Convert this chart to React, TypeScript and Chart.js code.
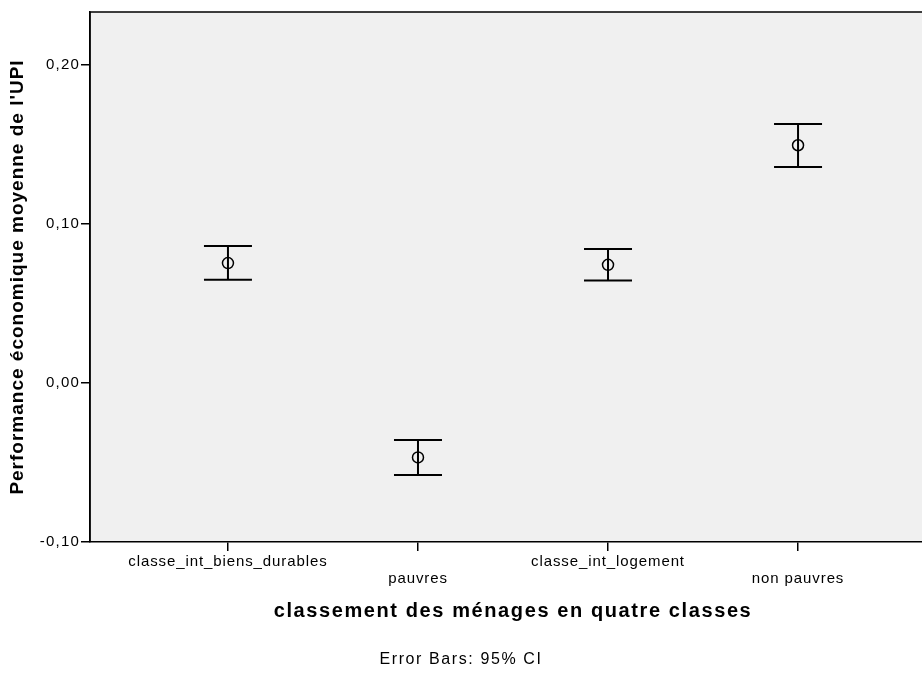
import React, { useEffect, useRef } from "react";
import { Chart, registerables } from "chart.js";

Chart.register(...registerables);

// Household classes (x axis)
const categories: string[] = [
  "classe_int_biens_durables",
  "pauvres",
  "classe_int_logement",
  "non pauvres",
];
// Mean economic performance per class and its 95% CI
const means: number[] = [0.0754, -0.0468, 0.0743, 0.1495];
const ciLower: number[] = [0.0649, -0.0579, 0.0644, 0.1359];
const ciUpper: number[] = [0.0862, -0.0359, 0.0842, 0.1629];
// Y axis ticks
const yTicks: number[] = [-0.1, 0, 0.1, 0.2];

const FONT = "'Liberation Sans', Arial, sans-serif";

// letter spacing (px) for the axis texts
const spacing: Record<string, { labels: number; title: number }> = {
  x: { labels: 0.9, title: 1.6 },
  y: { labels: 1.2, title: 1.0 },
};

const spacedText = {
  id: "spacedText",
  afterUpdate(chart: any) {
    const ctx = chart.ctx;
    Object.keys(spacing).forEach((id) => {
      const scale = chart.scales[id];
      if (!scale || scale.__spaced) return;
      scale.__spaced = true;
      const origLabels = scale.drawLabels.bind(scale);
      const origTitle = scale.drawTitle.bind(scale);
      scale.drawLabels = (area: any) => {
        ctx.save();
        ctx.letterSpacing = `${spacing[id].labels}px`;
        origLabels(area);
        ctx.restore();
      };
      scale.drawTitle = (area: any) => {
        ctx.save();
        ctx.letterSpacing = `${spacing[id].title}px`;
        origTitle(area);
        ctx.restore();
      };
    });
  },
};

const plotFrame = {
  id: "plotFrame",
  beforeDraw(chart: any) {
    const { ctx, chartArea } = chart;
    ctx.save();
    ctx.fillStyle = "#f0f0f0";
    ctx.fillRect(chartArea.left, chartArea.top, chartArea.right - chartArea.left, chartArea.bottom - chartArea.top);
    ctx.restore();
  },
  afterDraw(chart: any) {
    const { ctx, chartArea } = chart;
    ctx.save();
    ctx.strokeStyle = "#000";
    ctx.lineWidth = 1.5;
    ctx.beginPath();
    ctx.moveTo(chartArea.left, chartArea.bottom);
    ctx.lineTo(chartArea.left, chartArea.top);
    ctx.lineTo(chartArea.right, chartArea.top);
    ctx.stroke();
    // footnote
    ctx.fillStyle = "#000";
    ctx.font = `16px ${FONT}`;
    ctx.letterSpacing = "1.6px";
    ctx.textAlign = "center";
    ctx.textBaseline = "middle";
    ctx.fillText("Error Bars: 95% CI", 461, 660);
    ctx.restore();
  },
};

const errorBars = {
  id: "errorBars",
  beforeDatasetsDraw(chart: any) {
    const { ctx } = chart;
    const xs = chart.scales.x;
    const ys = chart.scales.y;
    ctx.save();
    ctx.strokeStyle = "#000";
    ctx.lineWidth = 2;
    const half = 24;
    for (let i = 0; i < categories.length; i++) {
      const x = xs.getPixelForValue(i);
      const yl = ys.getPixelForValue(ciLower[i]);
      const yu = ys.getPixelForValue(ciUpper[i]);
      ctx.beginPath();
      ctx.moveTo(x, yl);
      ctx.lineTo(x, yu);
      ctx.moveTo(x - half, yl);
      ctx.lineTo(x + half, yl);
      ctx.moveTo(x - half, yu);
      ctx.lineTo(x + half, yu);
      ctx.stroke();
    }
    ctx.restore();
  },
};

export default function App() {
  const ref = useRef<HTMLCanvasElement | null>(null);

  useEffect(() => {
    document.body.style.margin = "0";
    const canvas = ref.current;
    if (!canvas) return;
    const chart = new Chart(canvas, {
      type: "scatter",
      data: {
        datasets: [
          {
            data: means.map((m, i) => ({ x: i, y: m })),
            pointStyle: "circle",
            pointRadius: 5.5,
            pointBackgroundColor: "rgba(0,0,0,0)",
            pointBorderColor: "#000",
            pointBorderWidth: 1.5,
            showLine: false,
          },
        ],
      },
      options: {
        responsive: false,
        animation: false,
        devicePixelRatio: 1,
        layout: { padding: { top: 12, right: 14, left: 0, bottom: 0 } },
        plugins: {
          legend: { display: false },
          tooltip: { enabled: false },
        },
        scales: {
          x: {
            type: "linear",
            min: -0.726,
            max: 3.726,
            afterBuildTicks: (scale: any) => {
              scale.ticks = categories.map((_, i) => ({ value: i }));
            },
            afterFit: (scale: any) => {
              scale.height = 133;
            },
            ticks: {
              autoSkip: false,
              maxRotation: 0,
              padding: 3,
              color: "#000",
              font: { family: FONT, size: 15, lineHeight: 1.1 },
              callback: (v: any) => {
                const i = Math.round(Number(v));
                const label = categories[i] ?? "";
                return i % 2 === 1 ? ["", label] : [label];
              },
            },
            grid: {
              display: true,
              drawOnChartArea: false,
              drawTicks: true,
              tickLength: 9,
              color: "#000",
              lineWidth: 1.5,
            },
            border: { display: true, color: "#000", width: 1.5 },
            title: {
              display: true,
              text: "classement des ménages en quatre classes",
              color: "#000",
              font: { family: FONT, size: 20, weight: "bold" },
              padding: { top: 0, bottom: 52 },
            },
          },
          y: {
            type: "linear",
            min: -0.1,
            max: 0.2333,
            afterBuildTicks: (scale: any) => {
              scale.ticks = yTicks.map((v) => ({ value: v }));
            },
            afterFit: (scale: any) => {
              scale.width = 90;
            },
            ticks: {
              padding: 1,
              color: "#000",
              font: { family: FONT, size: 15 },
              callback: (v: any) => Number(v).toFixed(2).replace(".", ","),
            },
            grid: {
              display: true,
              drawOnChartArea: false,
              drawTicks: true,
              tickLength: 9,
              color: "#000",
              lineWidth: 1.5,
            },
            border: { display: true, color: "#000", width: 1.5 },
            title: {
              display: true,
              text: "Performance économique moyenne de l'UPI",
              color: "#000",
              font: { family: FONT, size: 19, weight: "bold" },
              padding: { top: 6, bottom: 0 },
            },
          },
        },
      },
      plugins: [spacedText, plotFrame, errorBars],
    });
    return () => chart.destroy();
  }, []);

  return (
    <div style={{ width: 922, height: 675, overflow: "hidden", position: "relative", background: "#fff" }}>
      <canvas ref={ref} width={950} height={675} style={{ display: "block" }} />
    </div>
  );
}
